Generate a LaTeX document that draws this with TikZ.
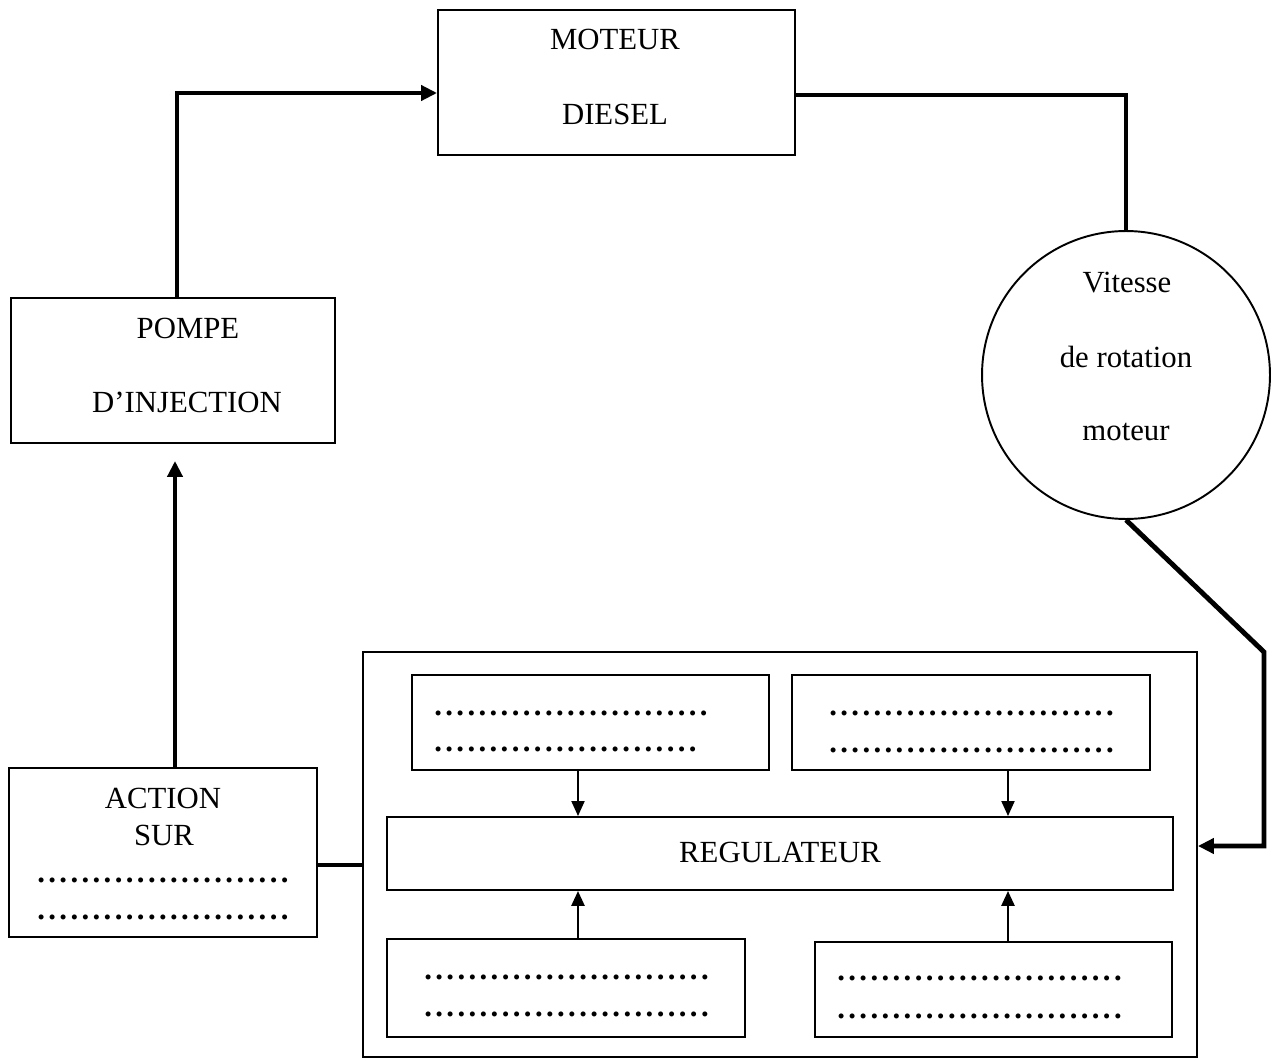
\documentclass[tikz,border=0pt]{standalone}
\usepackage{fontspec}
\setmainfont{Liberation Serif}
\newfontfamily\dotsfont[LetterSpace=11]{Liberation Serif}
\usetikzlibrary{arrows.meta}
\begin{document}
\begin{tikzpicture}[x=0.02cm, y=-0.02cm,
  box/.style={draw, line width=1.1pt, rectangle, inner sep=0pt},
  lbl/.style={anchor=base, inner sep=0pt, font=\fontsize{17.5}{21}\selectfont},
  dotrow/.style={anchor=base west, inner sep=0pt, font=\fontsize{17.5}{21}\selectfont\dotsfont\bfseries},
  conn/.style={line width=2.8pt},
  bigtip/.style={-{Triangle[length=0.32cm,width=0.3cm]}},
  inarrow/.style={line width=1.1pt, -{Triangle[length=0.3cm,width=0.26cm]}},
]
\useasboundingbox (0,0) rectangle (1272,1061);

% main boxes
\node[box, minimum width=7.14cm, minimum height=2.9cm] (moteur) at (616.5,82.5) {};
\node[box, minimum width=6.48cm, minimum height=2.9cm] (pompe) at (173,370.5) {};
\node[box, minimum width=6.16cm, minimum height=3.38cm] (action) at (163,852.5) {};
\node[box, circle, minimum size=5.76cm] (circ) at (1126,375) {};
\node[box, minimum width=16.68cm, minimum height=8.1cm] (big) at (780,854.5) {};
\node[box, minimum width=7.14cm, minimum height=1.9cm] (tl) at (590.5,722.5) {};
\node[box, minimum width=7.16cm, minimum height=1.9cm] (tr) at (971,722.5) {};
\node[box, minimum width=15.72cm, minimum height=1.46cm] (reg) at (780,853.5) {};
\node[box, minimum width=7.16cm, minimum height=1.96cm] (bl) at (566,988) {};
\node[box, minimum width=7.14cm, minimum height=1.9cm] (br) at (993.5,989.5) {};

% texts
\node[lbl] (t1) at (615,50) {MOTEUR};
\node[lbl] (t2) at (615,125) {DIESEL};
\node[lbl] (t3) at (188,338) {POMPE};
\node[lbl] (t4) at (187,412) {D’INJECTION};
\node[lbl] (t5) at (163,808) {ACTION};
\node[lbl] (t6) at (164,845) {SUR};
\node[lbl] (t7) at (780,862) {REGULATEUR};
\node[lbl] (t8) at (1127,292) {Vitesse};
\node[lbl] (t9) at (1126,367) {de rotation};
\node[lbl] (t10) at (1126,440) {moteur};

% dotted lines
\node[dotrow] (d1) at (37,882) {.......................};
\node[dotrow] (d2) at (37,919) {.......................};
\node[dotrow] (d3) at (434,715) {.........................};
\node[dotrow] (d4) at (434,751) {........................};
\node[dotrow] (d5) at (829,715) {..........................};
\node[dotrow] (d6) at (829,752) {..........................};
\node[dotrow] (d7) at (424,979) {..........................};
\node[dotrow] (d8) at (424,1016) {..........................};
\node[dotrow] (d9) at (837,980) {..........................};
\node[dotrow] (d10) at (837,1018) {..........................};

% helper coordinates
\coordinate (c1) at (177,93);
\coordinate (c2) at (1126,95);
\coordinate (c3) at (1264,652);
\coordinate (c4) at (1264,846);
\coordinate (c5) at (175,0);
\coordinate (c6) at (0,865);
\coordinate (xa) at (578,0);
\coordinate (xb) at (1008,0);

% connectors
\draw[conn, bigtip] (c1 |- pompe.north) -- (c1) -- (c1 -| moteur.west);
\draw[conn] (c2 -| moteur.east) -- (c2) -- (circ.north);
\draw[conn, bigtip] (circ.south) -- (c3) -- (c4) -- (c4 -| big.east);
\draw[conn, bigtip, shorten >=0.34cm] (action.north -| c5) -- (pompe.south -| c5);
\draw[conn] (action.east |- c6) -- (big.west |- c6);

\draw[inarrow] (tl.south -| xa) -- (reg.north -| xa);
\draw[inarrow] (tr.south -| xb) -- (reg.north -| xb);
\draw[inarrow, line width=1.5pt] (bl.north -| xa) -- (reg.south -| xa);
\draw[inarrow, line width=1.5pt] (br.north -| xb) -- (reg.south -| xb);
\end{tikzpicture}
\end{document}
